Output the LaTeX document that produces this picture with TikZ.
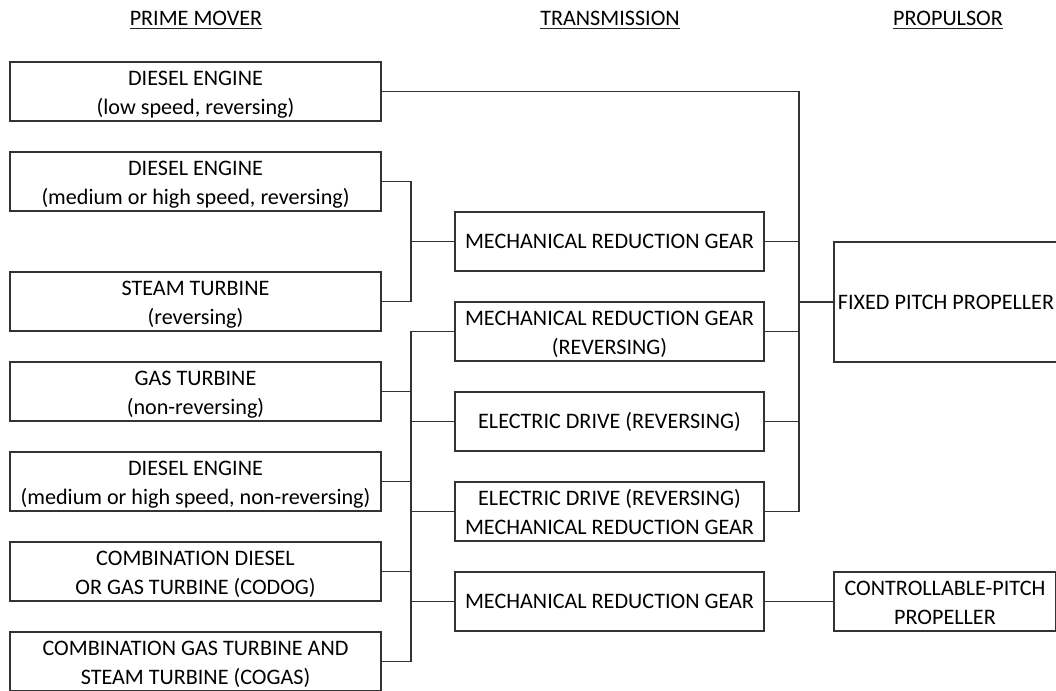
\documentclass[tikz,border=0pt]{standalone}
\usepackage{fontspec}
\setmainfont{Carlito}
\newcommand{\mytop}{\rule{0pt}{17.4pt}}
\newcommand{\mybot}{\rule[-4.5pt]{0pt}{4.5pt}}
\begin{document}
\begin{tikzpicture}[x=0.75pt,y=-0.75pt,
  every node/.style={font=\fontsize{16.6}{22.3}\selectfont, text=black},
  box/.style={draw=black!80, line width=1.1pt, rectangle, inner sep=0pt, align=center, minimum height=44.25pt},
  pmbox/.style={box, minimum width=278.25pt},
  trbox/.style={box, minimum width=231.75pt},
  prbox/.style={box, minimum width=166.5pt},
  head/.style={inner sep=0pt, anchor=base},
  uline/.style={draw=black!85, line width=1pt},
  conn/.style={draw=black!80, line width=1.1pt}]
\useasboundingbox (0,0) rectangle (1056,691);

% headers
\node[head] (h1) at (196,25.7) {PRIME MOVER};
\node[head] (h2) at (610,25.7) {TRANSMISSION};
\node[head] (h3) at (948,25.7) {PROPULSOR};
\foreach \h in {h1,h2,h3} \draw[uline] ([yshift=-2.1pt]\h.base west) -- ([yshift=-2.1pt]\h.base east);

% prime movers
\node[pmbox] (pm1) at (195.5,91.5) {\mytop DIESEL ENGINE\\(low speed, reversing)\mybot};
\node[pmbox] (pm2) at (195.5,181.5) {\mytop DIESEL ENGINE\\(medium or high speed, reversing)\mybot};
\node[pmbox] (pm3) at (195.5,301.5) {\mytop STEAM TURBINE\\(reversing)\mybot};
\node[pmbox] (pm4) at (195.5,391.5) {\mytop GAS TURBINE\\(non-reversing)\mybot};
\node[pmbox] (pm5) at (195.5,481.5) {\mytop DIESEL ENGINE\\(medium or high speed, non-reversing)\mybot};
\node[pmbox] (pm6) at (195.5,571.5) {\mytop COMBINATION DIESEL\\OR GAS TURBINE (CODOG)\mybot};
\node[pmbox] (pm7) at (195.5,661.5) {\mytop COMBINATION GAS TURBINE AND\\STEAM TURBINE (COGAS)\mybot};

% transmissions
\node[trbox] (tr1) at (609.5,241.5) {MECHANICAL REDUCTION GEAR};
\node[trbox] (tr2) at (609.5,331.5) {\mytop MECHANICAL REDUCTION GEAR\\(REVERSING)\mybot};
\node[trbox] (tr3) at (609.5,421.5) {ELECTRIC DRIVE (REVERSING)};
\node[trbox] (tr4) at (609.5,511.5) {\mytop ELECTRIC DRIVE (REVERSING)\\MECHANICAL REDUCTION GEAR\mybot};
\node[trbox] (tr5) at (609.5,601.5) {MECHANICAL REDUCTION GEAR};

% propulsors
\node[prbox, minimum height=90pt, minimum width=168pt] (fpp) at (946,302) {FIXED PITCH PROPELLER};
\node[prbox] (cpp) at (945,601.5) {\mytop CONTROLLABLE-PITCH\\PROPELLER\mybot};

% junction coordinates
\coordinate (j1) at (411,241.5);
\coordinate (busL) at (411,0);
\coordinate (busR) at (799,0);

% upper left group
\draw[conn] (pm2.east) -| (j1);
\draw[conn] (pm3.east) -| (j1);
\draw[conn] (j1) -- (tr1.west);

% lower left bus
\draw[conn] (busL |- tr2.west) -- (busL |- pm7.east);
\foreach \n in {pm4,pm5,pm6,pm7} \draw[conn] (\n.east) -- (\n.east -| busL);
\foreach \n in {tr2,tr3,tr4,tr5} \draw[conn] (\n.west -| busL) -- (\n.west);

% right bus
\draw[conn] (pm1.east) -| (busR |- tr4.east) -- (tr4.east);
\foreach \n in {tr1,tr2,tr3} \draw[conn] (\n.east) -- (\n.east -| busR);
\draw[conn] (busR |- fpp.west) -- (fpp.west);
\draw[conn] (tr5.east) -- (cpp.west);
\end{tikzpicture}
\end{document}
